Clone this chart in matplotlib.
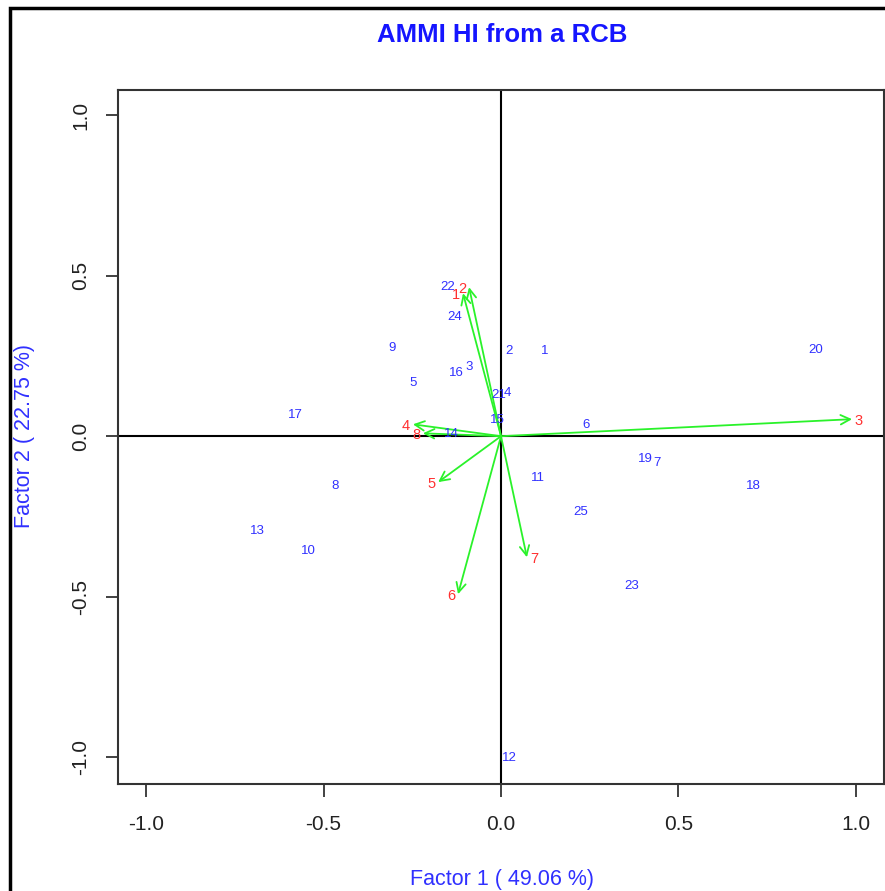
import numpy as np
import matplotlib
matplotlib.use("Agg")
import matplotlib.pyplot as plt
from matplotlib.patches import Rectangle

plt.rcParams['font.family'] = ['Liberation Sans', 'DejaVu Sans']

# genotype scores (factor 1, factor 2)
gen_labels = [str(i) for i in range(1, 26)]
gen_f1 = [0.124, 0.023, -0.090, 0.017, -0.248, 0.239, 0.439, -0.468, -0.307, -0.544,
          0.104, 0.025, -0.687, -0.141, -0.011, -0.127, -0.580, 0.710, 0.406, 0.887,
          -0.006, -0.149, 0.369, -0.130, 0.225]
gen_f2 = [0.265, 0.265, 0.215, 0.134, 0.165, 0.034, -0.084, -0.156, 0.274, -0.358,
          -0.131, -1.003, -0.296, 0.006, 0.050, 0.196, 0.065, -0.156, -0.072, 0.268,
          0.128, 0.464, -0.467, 0.371, -0.237]

# environment scores (arrow tips)
env_labels = [str(i) for i in range(1, 9)]
env_f1 = [-0.107, -0.090, 0.989, -0.248, -0.177, -0.121, 0.073, -0.220]
env_f2 = [0.445, 0.464, 0.053, 0.037, -0.143, -0.492, -0.377, 0.009]

ticks = [-1.0, -0.5, 0.0, 0.5, 1.0]

W, H = 885, 891
fig = plt.figure(figsize=(W / 100, H / 100), dpi=100)
ax = fig.add_axes([118 / W, 107 / H, 766 / W, 694 / H])
ax.set_xlim(-1.079, 1.079)
ax.set_ylim(-1.083, 1.078)

blue = '#3030ff'
red = '#ff3030'
green = '#2af22a'

ax.axhline(0, color='black', lw=1.5, zorder=1)
ax.axvline(0, color='black', lw=1.5, zorder=1)

for lab, x, y in zip(gen_labels, gen_f1, gen_f2):
    ax.text(x, y, lab, color=blue, fontsize=9.5, ha='center', va='center', zorder=3)

for lab, x, y in zip(env_labels, env_f1, env_f2):
    ax.annotate('', xy=(x, y), xytext=(0, 0),
                arrowprops=dict(arrowstyle='->', color=green, lw=1.3,
                                mutation_scale=17, shrinkA=0, shrinkB=0),
                zorder=2)
    ax.annotate(lab, xy=(x, y), xytext=(5 * np.sign(x), -1), textcoords='offset points',
                color=red, fontsize=10.5, ha='center', va='center', zorder=3)

ax.set_xticks(ticks)
ax.set_yticks(ticks)
ax.set_xticklabels([f'{t:.1f}' for t in ticks])
ax.set_yticklabels([f'{t:.1f}' for t in ticks])
ax.tick_params(direction='out', length=9, width=1.3, labelsize=15,
               color='#333333', labelcolor='#222222')
ax.tick_params(axis='x', pad=13)
ax.tick_params(axis='y', pad=11)
plt.setp(ax.get_yticklabels(), rotation=90, va='center')
for s in ax.spines.values():
    s.set_linewidth(1.5)
    s.set_color('#333333')

fig.text(502 / W, 1 - 35 / H, 'AMMI HI from a RCB', color='#1515ff', fontsize=18.5,
         fontweight='bold', ha='center', va='center')
fig.text(502 / W, 1 - 879 / H, 'Factor 1 ( 49.06 %)', color=blue, fontsize=15.5,
         ha='center', va='center')
fig.text(25 / W, 1 - 436 / H, 'Factor 2 ( 22.75 %)', color=blue, fontsize=15.5,
         ha='center', va='center', rotation=90)

fig.patches.append(Rectangle((10 / W, -0.1), 1.2, 1 - 8 / H + 0.1, fill=False,
                             lw=2.5, edgecolor='black', transform=fig.transFigure))

fig.savefig('out.png', dpi=100)
